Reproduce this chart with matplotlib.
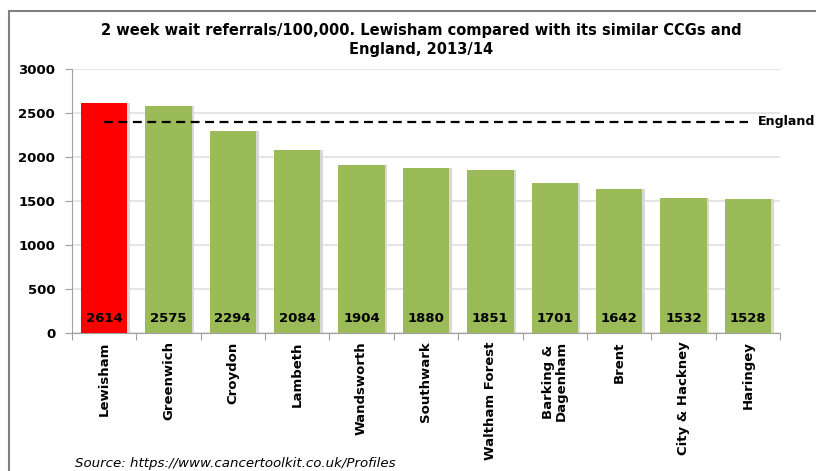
import numpy as np
import matplotlib.pyplot as plt
from matplotlib.patches import Rectangle

# -----------------------------
# Data
# -----------------------------
ccgs = ["Lewisham", "Greenwich", "Croydon", "Lambeth", "Wandsworth", "Southwark",
        "Waltham Forest", "Barking &\nDagenham", "Brent", "City & Hackney", "Haringey"]
referrals = [2614, 2575, 2294, 2084, 1904, 1880, 1851, 1701, 1642, 1532, 1528]
england = 2400
yticks = [0, 500, 1000, 1500, 2000, 2500, 3000]

colors = ["#FF0000"] + ["#9BBB59"] * (len(ccgs) - 1)
x = np.arange(len(ccgs))

fig = plt.figure(figsize=(8.16, 4.71), dpi=100)
ax = fig.add_axes([0.088, 0.293, 0.868, 0.5605])

# soft shadow then bars
ax.bar(x + 0.04, referrals, width=0.72, color="#D8D8D8", zorder=2)
ax.bar(x, referrals, width=0.72, color=colors, zorder=3)

# England reference line (drawn across category centres)
ax.hlines(england, x[0], x[-1], colors="black", linestyles=(0, (4, 2.5)), lw=1.6, zorder=4)
ax.text(10.15, england, "England", fontsize=9.1, fontweight="bold", va="center",
        ha="left", clip_on=False)

# value labels at base of bars
for xi, v in zip(x, referrals):
    ax.text(xi, 170, str(v), ha="center", va="center", fontsize=9.5,
            fontweight="bold", zorder=5)

ax.set_xlim(-0.5, len(ccgs) - 0.5)
ax.set_ylim(0, 3000)
ax.set_yticks(yticks)
ax.set_yticklabels([str(t) for t in yticks], fontsize=9.5, fontweight="bold")
ax.yaxis.grid(True, color="#E0E0E0", lw=1.2, zorder=0)
ax.set_axisbelow(True)

# category ticks at boundaries, labels at centres
ax.set_xticks(np.arange(len(ccgs) + 1) - 0.5)
ax.set_xticklabels([])
ax.set_xticks(x, minor=True)
ax.set_xticklabels(ccgs, minor=True, rotation=90, fontsize=9.5, fontweight="bold",
                   linespacing=1.0)
ax.tick_params(axis="x", which="minor", length=0, pad=6)
ax.tick_params(axis="x", which="major", length=5, color="#A0A0A0")
ax.tick_params(axis="y", length=5, color="#A0A0A0", pad=7)

for s in ["top", "right"]:
    ax.spines[s].set_visible(False)
for s in ["left", "bottom"]:
    ax.spines[s].set_color("#A0A0A0")

fig.text(0.516, 0.915, "2 week wait referrals/100,000. Lewisham compared with its similar CCGs and\nEngland, 2013/14",
         ha="center", va="center", fontsize=10.5, fontweight="bold", linespacing=1.3)

fig.text(0.092, 0.015, "Source: https://www.cancertoolkit.co.uk/Profiles", fontsize=9.6,
         style="italic", ha="left", va="center")

# outer chart frame
fig.add_artist(Rectangle((0.0105, -0.1), 1.2, 1.0765, transform=fig.transFigure,
                         fill=False, edgecolor="#808080", lw=1.5))

fig.savefig("out.png", dpi=100)
